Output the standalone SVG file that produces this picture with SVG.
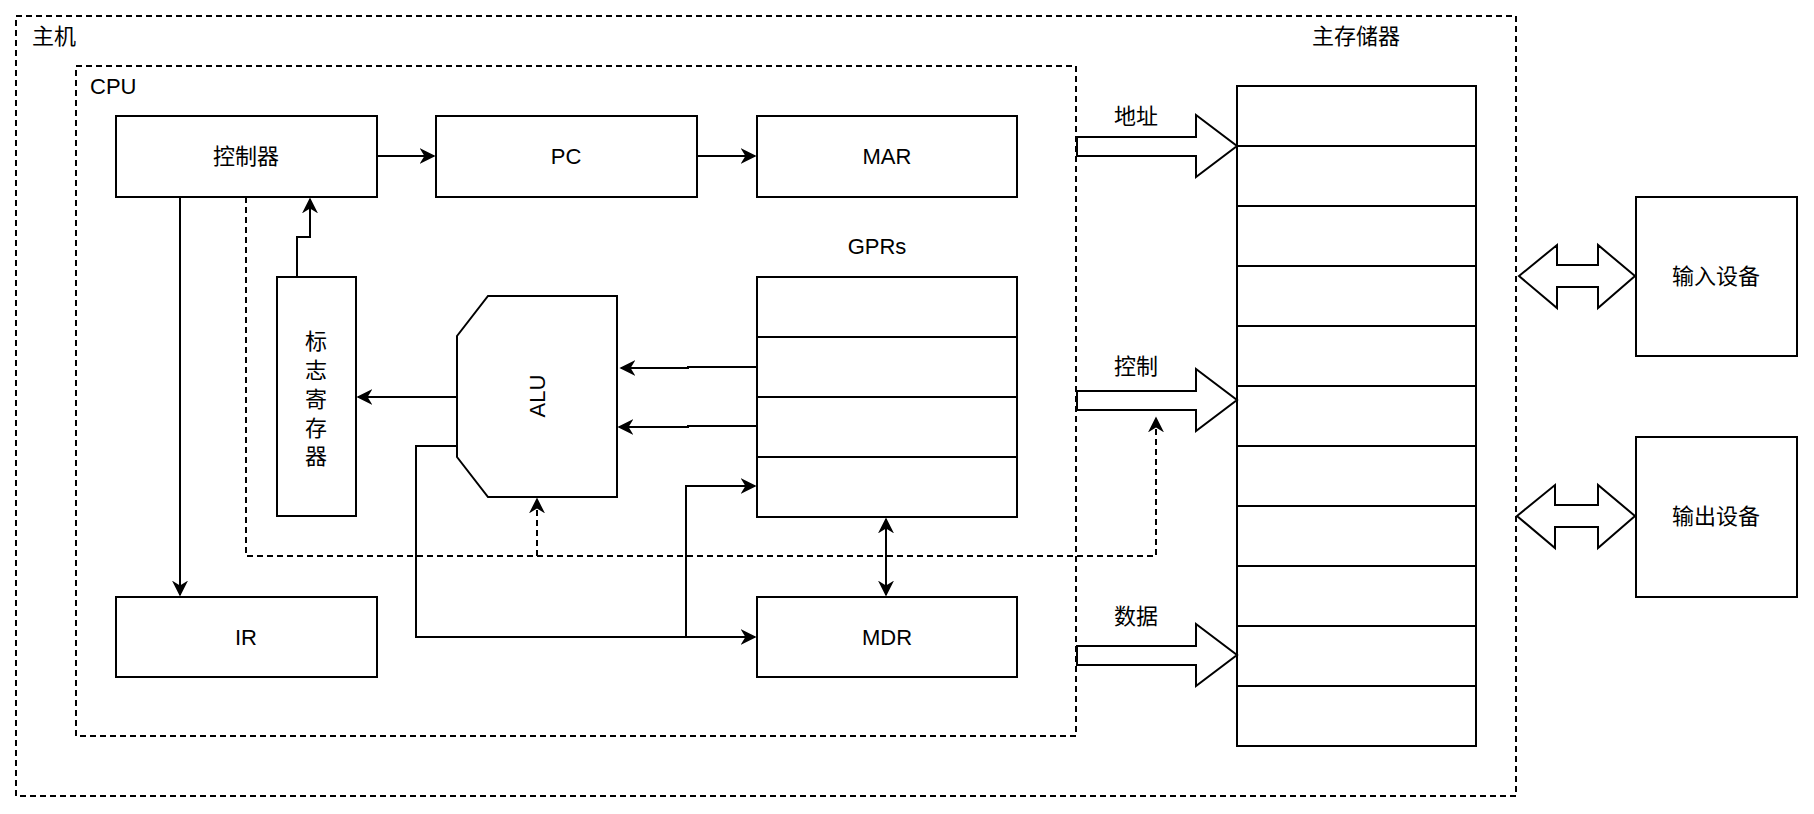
<svg xmlns="http://www.w3.org/2000/svg" width="1814" height="814" viewBox="0 0 1814 814">
<style>
text{font-family:"Liberation Sans","Noto Sans CJK SC",sans-serif;font-size:22px;fill:#000}
.b{fill:#fff;stroke:#000;stroke-width:2}
.d{fill:none;stroke:#000;stroke-width:2;stroke-dasharray:6 4}
.c{fill:none;stroke:#000;stroke-width:2}
.m{text-anchor:middle;dominant-baseline:central}
</style>
<defs>
<marker id="a" viewBox="0 0 10 10" refX="9" refY="5" markerWidth="8" markerHeight="8" orient="auto-start-reverse"><path d="M0,0 L10,5 L0,10 L3,5 Z" fill="#000"/></marker>
</defs>
<g id="host"><rect x="16" y="16" width="1500" height="780" class="d"/><text x="32" y="44">主机</text></g>
<g id="cpu"><rect x="76" y="66" width="1000" height="670" class="d"/><text x="90" y="94">CPU</text></g>
<g id="ctrl"><rect x="116" y="116" width="261" height="81" class="b"/><text x="246" y="156" class="m">控制器</text></g>
<g id="pc"><rect x="436" y="116" width="261" height="81" class="b"/><text x="566" y="156" class="m">PC</text></g>
<g id="mar"><rect x="757" y="116" width="260" height="81" class="b"/><text x="887" y="156" class="m">MAR</text></g>
<g id="ir"><rect x="116" y="597" width="261" height="80" class="b"/><text x="246" y="637" class="m">IR</text></g>
<g id="mdr"><rect x="757" y="597" width="260" height="80" class="b"/><text x="887" y="637" class="m">MDR</text></g>
<g id="gprs"><text x="877" y="246" class="m">GPRs</text><rect x="757" y="277" width="260" height="240" class="b"/><path d="M757,337H1017M757,397H1017M757,457H1017" class="c"/></g>
<g id="flags"><rect x="277" y="277" width="79" height="239" class="b"/>
<text x="316" y="341" class="m">标</text><text x="316" y="370" class="m">志</text><text x="316" y="399" class="m">寄</text><text x="316" y="428" class="m">存</text><text x="316" y="456" class="m">器</text></g>
<g id="alu"><path d="M488,296H617V497H488L457,457V336Z" class="b"/><text transform="translate(537,396) rotate(-90)" class="m">ALU</text></g>
<g id="mem"><text x="1356" y="44" text-anchor="middle">主存储器</text><rect x="1237" y="86" width="239" height="660" class="b"/>
<path d="M1237,146H1476M1237,206H1476M1237,266H1476M1237,326H1476M1237,386H1476M1237,446H1476M1237,506H1476M1237,566H1476M1237,626H1476M1237,686H1476" class="c"/></g>
<g id="in"><rect x="1636" y="197" width="161" height="159" class="b"/><text x="1716" y="276" class="m">输入设备</text></g>
<g id="out"><rect x="1636" y="437" width="161" height="160" class="b"/><text x="1716" y="516" class="m">输出设备</text></g>
<g id="connectors">
<path d="M1077,137H1196V115L1237,146L1196,177V156H1077Z" class="b"/><text x="1136" y="116" class="m">地址</text>
<path d="M1077,391H1196V369L1237,400L1196,431V410H1077Z" class="b"/><text x="1136" y="366" class="m">控制</text>
<path d="M1077,646H1196V624L1237,655L1196,686V665H1077Z" class="b"/><text x="1136" y="616" class="m">数据</text>
<path d="M1519,276L1557,245V265H1598V245L1635,276L1598,308V287H1557V308Z" class="b"/>
<path d="M1517,516L1555,485V505H1598V485L1635,516L1598,548V527H1555V548Z" class="b"/>
<path d="M377,156H434" class="c" marker-end="url(#a)"/>
<path d="M697,156H755" class="c" marker-end="url(#a)"/>
<path d="M180,197V595" class="c" marker-end="url(#a)"/>
<path d="M297,277V237H310V199" class="c" marker-end="url(#a)"/>
<path d="M457,397H358" class="c" marker-end="url(#a)"/>
<path d="M757,367H688V368H621" class="c" marker-end="url(#a)"/>
<path d="M757,426H688V427H619" class="c" marker-end="url(#a)"/>
<path d="M457,446H416V637H755" class="c" marker-end="url(#a)"/>
<path d="M686,637V486H755" class="c" marker-end="url(#a)"/>
<path d="M886,519V595" class="c" marker-start="url(#a)" marker-end="url(#a)"/>
<path d="M246,197V556H1156V418" class="d" marker-end="url(#a)"/>
<path d="M537,556V499" class="d" marker-end="url(#a)"/>
</g>
</svg>
